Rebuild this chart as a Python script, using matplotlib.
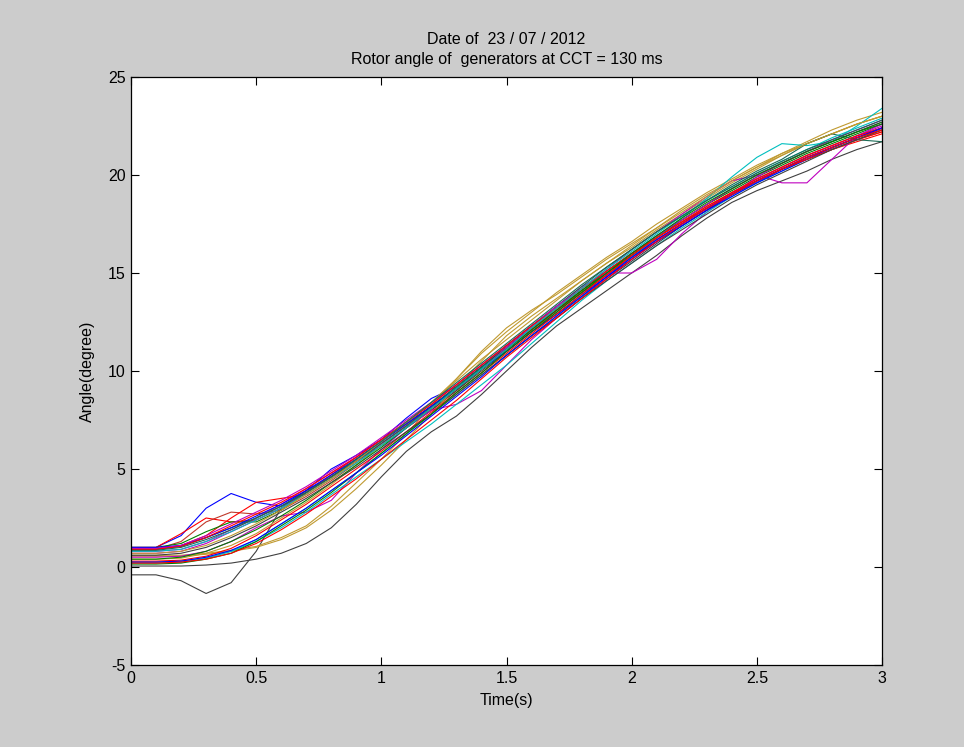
import matplotlib.pyplot as plt

plt.rcParams['font.family'] = ['Liberation Sans', 'DejaVu Sans']

#%% 데이터 (time step 0.1 s)
time_s = [0.0, 0.1, 0.2, 0.3, 0.4, 0.5, 0.6, 0.7, 0.8, 0.9, 1.0,
          1.1, 1.2, 1.3, 1.4, 1.5, 1.6, 1.7, 1.8, 1.9, 2.0,
          2.1, 2.2, 2.3, 2.4, 2.5, 2.6, 2.7, 2.8, 2.9, 3.0]

# rotor angle of each generator (degree)
gen01 = [1.0, 1.0, 1.6, 3.0, 3.75, 3.3, 3.1, 3.9, 5.0, 5.7, 6.5, 7.6, 8.6, 9.2, 10.2, 11.2, 12.2, 13.1, 14.0, 14.9, 15.8, 16.6, 17.4, 18.2, 19.0, 19.6, 20.3, 20.9, 21.4, 21.9, 22.4]
gen02 = [1.0, 1.0, 1.7, 2.5, 2.3, 2.4, 3.0, 3.8, 4.7, 5.6, 6.5, 7.3, 8.2, 9.1, 10.1, 11.1, 12.1, 13.1, 14.0, 14.9, 15.8, 16.7, 17.5, 18.3, 19.0, 19.7, 20.3, 20.8, 21.3, 21.8, 22.2]
gen03 = [0.9, 0.9, 1.3, 2.3, 2.8, 2.7, 2.9, 3.6, 4.4, 5.3, 6.2, 7.1, 8.0, 9.0, 10.1, 11.1, 12.1, 13.0, 14.0, 14.9, 15.9, 16.7, 17.5, 18.3, 19.1, 19.8, 20.4, 21.0, 21.5, 22.0, 22.4]
gen04 = [0.9, 0.9, 1.1, 1.6, 2.5, 3.3, 3.5, 3.7, 4.5, 5.4, 6.3, 7.2, 8.1, 9.1, 10.1, 11.1, 12.1, 13.1, 14.1, 15.0, 15.9, 16.8, 17.6, 18.3, 19.0, 19.7, 20.3, 20.8, 21.3, 21.7, 22.1]
gen05 = [1.0, 1.0, 1.2, 1.8, 2.3, 2.3, 2.9, 3.8, 4.6, 5.5, 6.4, 7.3, 8.2, 9.2, 10.2, 11.2, 12.2, 13.2, 14.1, 15.0, 15.9, 16.8, 17.7, 18.5, 19.2, 19.9, 20.5, 21.1, 21.6, 22.1, 22.6]
gen06 = [-0.4, -0.4, -0.7, -1.35, -0.8, 0.8, 3.0, 3.9, 4.6, 5.4, 6.2, 7.1, 8.0, 9.0, 10.0, 11.0, 12.0, 12.9, 13.8, 14.7, 15.6, 16.5, 17.4, 18.2, 19.0, 19.7, 20.3, 20.9, 21.4, 21.9, 22.3]
gen07 = [0.05, 0.05, 0.05, 0.1, 0.2, 0.4, 0.7, 1.2, 2.0, 3.2, 4.6, 5.9, 6.9, 7.7, 8.8, 10.0, 11.2, 12.3, 13.2, 14.1, 15.0, 15.9, 16.9, 17.8, 18.6, 19.2, 19.7, 20.2, 20.8, 21.3, 21.7]
gen08 = [0.6, 0.6, 0.6, 0.7, 0.85, 1.05, 1.5, 2.1, 3.1, 4.3, 5.5, 6.8, 8.2, 9.6, 11.0, 12.2, 13.1, 13.9, 14.8, 15.7, 16.5, 17.3, 18.2, 19.0, 19.7, 20.4, 21.1, 21.7, 22.3, 22.8, 23.2]
gen09 = [0.55, 0.55, 0.55, 0.65, 0.8, 1.0, 1.4, 2.0, 2.9, 4.0, 5.2, 6.5, 7.8, 9.2, 10.5, 11.8, 12.8, 13.7, 14.6, 15.5, 16.3, 17.2, 18.0, 18.8, 19.6, 20.3, 21.0, 21.6, 22.1, 22.6, 23.0]
gen10 = [0.4, 0.4, 0.45, 0.7, 1.1, 1.7, 2.5, 3.3, 4.2, 5.2, 6.2, 7.3, 8.4, 9.6, 10.9, 12.0, 13.0, 14.0, 14.9, 15.8, 16.6, 17.5, 18.3, 19.1, 19.8, 20.5, 21.1, 21.6, 22.1, 22.6, 23.0]
gen11 = [0.5, 0.5, 0.55, 0.8, 1.3, 2.0, 2.6, 2.8, 3.4, 4.8, 6.0, 7.1, 8.0, 8.3, 9.0, 10.3, 11.6, 12.7, 13.7, 14.7, 15.7, 16.6, 17.5, 18.3, 19.1, 19.8, 20.4, 21.0, 21.5, 22.0, 22.5]
gen12 = [0.8, 0.8, 0.9, 1.3, 1.9, 2.5, 3.2, 4.0, 4.8, 5.6, 6.5, 7.4, 8.3, 9.3, 10.3, 11.3, 12.3, 13.3, 14.3, 15.0, 15.0, 15.7, 17.0, 18.1, 19.0, 19.9, 20.6, 21.2, 21.7, 22.2, 22.7]
gen13 = [0.7, 0.7, 0.8, 1.2, 1.8, 2.4, 3.0, 3.8, 4.6, 5.4, 6.3, 7.2, 8.1, 9.1, 10.1, 11.2, 12.2, 13.2, 14.2, 15.2, 16.2, 17.1, 18.0, 18.9, 19.7, 20.0, 19.6, 19.6, 20.8, 22.0, 22.6]
gen14 = [0.2, 0.2, 0.25, 0.45, 0.8, 1.4, 2.2, 3.0, 3.9, 4.8, 5.8, 6.8, 7.8, 8.8, 9.8, 10.8, 11.8, 12.8, 13.8, 14.8, 15.8, 16.8, 17.8, 18.8, 19.9, 20.9, 21.6, 21.5, 21.7, 22.5, 23.4]
gen15 = [0.25, 0.25, 0.3, 0.45, 0.8, 1.3, 2.0, 2.8, 3.7, 4.6, 5.5, 6.4, 7.3, 8.3, 9.3, 10.3, 11.4, 12.5, 13.6, 14.6, 15.5, 16.4, 17.3, 18.1, 18.9, 19.6, 20.2, 20.8, 21.3, 21.8, 22.3]
gen16 = [0.9, 0.9, 1.05, 1.5, 2.0, 2.5, 3.1, 3.8, 4.6, 5.4, 6.3, 7.2, 8.2, 9.2, 10.2, 11.3, 12.3, 13.3, 14.3, 15.3, 16.2, 17.1, 17.9, 18.7, 19.5, 20.2, 20.8, 21.6, 22.1, 21.8, 21.7]
gen17 = [1.0, 1.0, 1.1, 1.5, 2.0, 2.6, 3.2, 3.9, 4.7, 5.5, 6.4, 7.3, 8.2, 9.1, 10.1, 11.0, 12.0, 12.9, 13.9, 14.8, 15.7, 16.6, 17.4, 18.2, 18.9, 19.6, 20.2, 20.8, 21.4, 21.9, 22.4]
gen18 = [0.3, 0.3, 0.35, 0.55, 0.95, 1.6, 2.4, 3.2, 4.1, 5.0, 5.9, 6.9, 7.9, 8.9, 9.9, 10.9, 11.9, 12.9, 13.9, 14.9, 15.9, 16.8, 17.6, 18.4, 19.1, 19.8, 20.4, 21.0, 21.5, 22.0, 22.4]
gen19 = [0.4, 0.4, 0.5, 0.8, 1.3, 1.9, 2.6, 3.4, 4.3, 5.2, 6.1, 7.1, 8.1, 9.1, 10.1, 11.1, 12.1, 13.1, 14.1, 15.1, 16.0, 16.9, 17.7, 18.5, 19.3, 20.0, 20.6, 21.2, 21.7, 22.2, 22.7]
gen20 = [0.95, 0.95, 1.1, 1.6, 2.2, 2.8, 3.4, 4.1, 4.9, 5.7, 6.6, 7.5, 8.4, 9.3, 10.3, 11.3, 12.3, 13.3, 14.2, 15.1, 16.0, 16.9, 17.7, 18.5, 19.3, 20.0, 20.6, 21.2, 21.8, 22.3, 22.8]
gen21 = [0.9, 0.9, 1.05, 1.5, 2.1, 2.7, 3.3, 4.0, 4.8, 5.6, 6.5, 7.4, 8.3, 9.3, 10.3, 11.3, 12.3, 13.2, 14.2, 15.1, 16.0, 16.8, 17.6, 18.4, 19.1, 19.7, 20.3, 20.8, 21.3, 21.8, 22.2]
gen22 = [0.8, 0.8, 0.9, 1.3, 1.8, 2.4, 3.0, 3.7, 4.5, 5.3, 6.2, 7.1, 8.1, 9.1, 10.1, 11.1, 12.2, 13.2, 14.2, 15.2, 16.1, 17.0, 17.9, 18.7, 19.4, 20.1, 20.7, 21.3, 21.9, 22.4, 22.9]
gen23 = [0.7, 0.7, 0.8, 1.1, 1.6, 2.2, 2.9, 3.7, 4.5, 5.4, 6.4, 7.4, 8.4, 9.5, 10.6, 11.6, 12.6, 13.6, 14.6, 15.5, 16.4, 17.3, 18.1, 18.9, 19.7, 20.4, 21.0, 21.6, 22.1, 22.6, 23.0]
gen24 = [0.6, 0.6, 0.7, 1.0, 1.5, 2.1, 2.8, 3.5, 4.3, 5.1, 6.0, 6.9, 7.8, 8.8, 9.8, 10.8, 11.8, 12.7, 13.7, 14.6, 15.5, 16.4, 17.2, 18.0, 18.8, 19.5, 20.1, 20.7, 21.3, 21.8, 22.3]
gen25 = [0.15, 0.15, 0.2, 0.4, 0.7, 1.3, 2.1, 2.9, 3.8, 4.8, 5.8, 6.8, 7.8, 8.9, 9.9, 11.0, 12.0, 13.0, 14.0, 15.0, 16.0, 16.9, 17.8, 18.6, 19.3, 20.0, 20.6, 21.2, 21.7, 22.2, 22.6]
gen26 = [0.25, 0.25, 0.3, 0.5, 0.85, 1.4, 2.2, 3.0, 3.9, 4.8, 5.7, 6.7, 7.7, 8.7, 9.7, 10.8, 11.8, 12.8, 13.8, 14.8, 15.8, 16.7, 17.5, 18.3, 19.0, 19.7, 20.3, 20.9, 21.4, 21.9, 22.4]
gen27 = [0.85, 0.85, 1.0, 1.4, 1.9, 2.5, 3.1, 3.8, 4.6, 5.5, 6.4, 7.4, 8.4, 9.4, 10.4, 11.4, 12.4, 13.4, 14.4, 15.3, 16.2, 17.1, 17.9, 18.7, 19.4, 20.1, 20.7, 21.3, 21.8, 22.3, 22.8]
gen28 = [0.2, 0.2, 0.25, 0.4, 0.7, 1.2, 1.9, 2.7, 3.6, 4.5, 5.5, 6.5, 7.5, 8.5, 9.6, 10.7, 11.7, 12.7, 13.7, 14.7, 15.7, 16.6, 17.5, 18.3, 19.0, 19.7, 20.3, 20.9, 21.4, 21.9, 22.3]

generators = [gen01, gen02, gen03, gen04, gen05, gen06, gen07, gen08, gen09, gen10,
              gen11, gen12, gen13, gen14, gen15, gen16, gen17, gen18, gen19, gen20,
              gen21, gen22, gen23, gen24, gen25, gen26, gen27, gen28]

# 선 색 (MATLAB 스타일)
line_colors = ['#0000FF', '#FF0000', '#C0392B', '#FF0000', '#008000', '#404040', '#404040',
               '#C09A30', '#C09A30', '#C09A30', '#BF00BF', '#BF00BF', '#BF00BF', '#00BFBF',
               '#00BFBF', '#1B6B55', '#0000FF', '#FF0000', '#008000', '#BF00BF',
               '#FF0000', '#00BFBF', '#C09A30', '#404040', '#008000', '#0000FF', '#1B6B55', '#FF0000']

x_ticks = [0, 0.5, 1, 1.5, 2, 2.5, 3]
x_tick_labels = ['0', '0.5', '1', '1.5', '2', '2.5', '3']
y_ticks = [-5, 0, 5, 10, 15, 20, 25]
y_tick_labels = ['-5', '0', '5', '10', '15', '20', '25']

#%% 그래프
fig = plt.figure(figsize=(9.64, 7.47), dpi=100, facecolor='#CCCCCC')
ax = fig.add_axes([131/964, 1 - 665/747, (882 - 131)/964, (665 - 77)/747])
ax.set_facecolor('white')

for gen, col in zip(generators, line_colors):
    ax.plot(time_s, gen, color=col, linewidth=0.8)

ax.set_xlim(0, 3)
ax.set_ylim(-5, 25)
ax.set_xticks(x_ticks)
ax.set_xticklabels(x_tick_labels)
ax.set_yticks(y_ticks)
ax.set_yticklabels(y_tick_labels)
ax.tick_params(direction='in', length=6, width=0.8, top=True, right=True, labelsize=11.5, pad=4)
for sp in ax.spines.values():
    sp.set_linewidth(0.9)

ax.set_xlabel('Time(s)', fontsize=11.5, labelpad=5)
ax.set_ylabel('Angle(degree)', fontsize=11.5, labelpad=9)
ax.set_title('Date of  23 / 07 / 2012\nRotor angle of  generators at CCT = 130 ms',
             fontsize=11.5, pad=9.5, linespacing=1.4)

plt.savefig('out.png', dpi=100, facecolor=fig.get_facecolor())
